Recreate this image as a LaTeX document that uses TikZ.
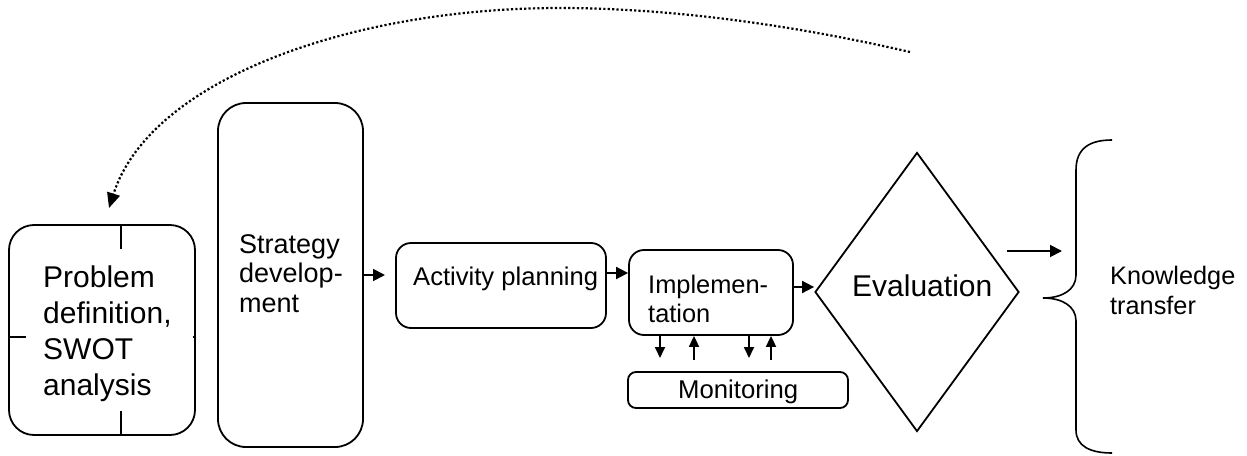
\documentclass[tikz,border=0pt]{standalone}
\usepackage{fontspec}
\setmainfont{Liberation Sans}
\usetikzlibrary{arrows.meta,shapes.geometric}
\begin{document}
\begin{tikzpicture}[x=1pt,y=-1pt,
  box/.style={draw, line width=1.8pt, rounded corners=#1, inner sep=0pt},
  lbl/.style={inner sep=0pt, align=left, anchor=base west},
  arr/.style={-{Triangle[length=12pt,width=12pt]}, line width=1.8pt},
  sarr/.style={-{Triangle[length=11pt,width=10pt]}, line width=1.8pt},
  dotarr/.style={-{Triangle[length=15pt,width=13pt]}, line width=2.2pt, dash pattern=on 2.2pt off 2.2pt},
]
\useasboundingbox (0,0) rectangle (1247,455);
% boxes
\node[box=25pt, minimum width=186pt, minimum height=210pt] (prob) at (102,330) {};
\node[box=28pt, minimum width=145pt, minimum height=344pt] (strat) at (290.5,275) {};
\node[box=15pt, minimum width=210pt, minimum height=85pt] (act) at (501,285.5) {};
\node[box=15pt, minimum width=164pt, minimum height=85pt] (impl) at (711,292.5) {};
\node[box=8pt, minimum width=220pt, minimum height=36pt] (mon) at (738,390) {};
\node[draw, diamond, line width=1.8pt, inner sep=0pt, minimum width=204pt, minimum height=279pt] (eval) at (917,292) {};
% ticks on problem box
\draw[line width=1.8pt] ([xshift=19pt]prob.north) -- ++(0,25);
\draw[line width=1.8pt] ([xshift=19pt]prob.south) -- ++(0,-25);
\draw[line width=1.8pt] ([yshift=-7pt]prob.west) -- ++(18,0);
\draw[line width=1.8pt] ([yshift=-7pt]prob.east) -- ++(-3,0);
% labels (base = last line baseline)
\node[lbl, font=\fontsize{30}{36}\selectfont] (probt) at (43,395) {Problem\\definition,\\SWOT\\analysis};
\node[lbl, font=\fontsize{27}{29.5}\selectfont] (stratt) at (239,312) {Strategy\\develop-\\ment};
\node[lbl, font=\fontsize{25.6}{30}\selectfont] (actt) at (413,285) {Activity planning};
\node[lbl, font=\fontsize{25.4}{29}\selectfont] (implt) at (648,322) {Implemen-\\tation};
\node[lbl, font=\fontsize{25.7}{30}\selectfont] (mont) at (678,398) {Monitoring};
\node[lbl, font=\fontsize{30}{36}\selectfont] (evalt) at (852,296) {Evaluation};
\node[lbl, font=\fontsize{25.3}{30}\selectfont] (kt) at (1110,314) {Knowledge\\transfer};
% brace
\coordinate (btip) at (1043,298);
\draw[line width=1.6pt] (1112,140) .. controls (1090,140) and (1076,148) .. (1076,170) -- (1076,275) .. controls (1076,290) and (1062,298) .. (btip) .. controls (1062,298) and (1076,306) .. (1076,321) -- (1076,430) .. controls (1076,446) and (1090,453) .. (1112,453);
% arrows
\draw[arr] (strat.east |- 0,275) -- (385,275);
\draw[arr] (act.east |- 0,273) -- (impl.west |- 0,273);
\draw[arr] (impl.east |- 0,287) -- (eval.west |- 0,287);
\coordinate (ea) at (1007,251);
\coordinate (eb) at (1062,251);
\draw[arr] (ea) -- (eb);
% monitoring arrows
\draw[sarr] (impl.south -| 660,0) -- (660,358);
\draw[sarr] (694,360) -- (impl.south -| 694,0);
\draw[sarr] (impl.south -| 749,0) -- (749,358);
\draw[sarr] (771,360) -- (impl.south -| 771,0);
% feedback dotted arrow
\coordinate (fs) at (910,52);
\coordinate (fm) at (560,8);
\coordinate (fe) at (109,208);
\draw[dotarr] (fs) .. controls (780,22) and (660,8) .. (fm) .. controls (350,8) and (150,80) .. (fe);
\end{tikzpicture}
\end{document}
